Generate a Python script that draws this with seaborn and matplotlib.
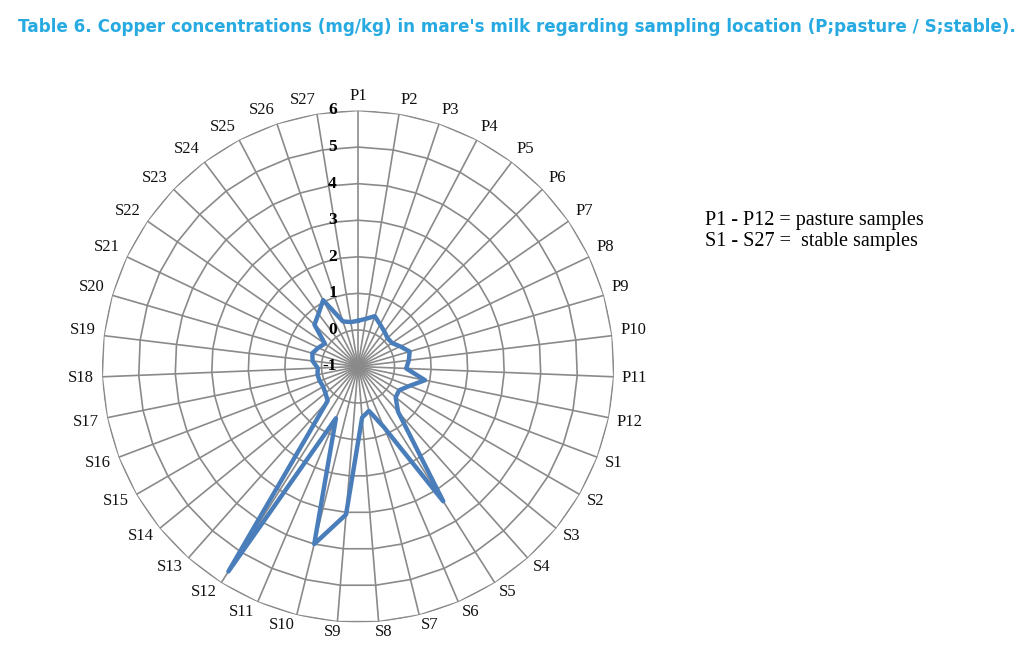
import numpy as np
import pandas as pd
import matplotlib
matplotlib.use("Agg")
import matplotlib.pyplot as plt
import seaborn as sns
from matplotlib.transforms import offset_copy

# ---- data -------------------------------------------------------------
categories = ["P1", "P2", "P3", "P4", "P5", "P6", "P7", "P8", "P9", "P10", "P11", "P12",
              "S1", "S2", "S3", "S4", "S5", "S6", "S7", "S8", "S9", "S10", "S11", "S12",
              "S13", "S14", "S15", "S16", "S17", "S18", "S19", "S20", "S21", "S22", "S23",
              "S24", "S25", "S26", "S27"]
copper = [0.25, 0.32, 0.45, 0.30, 0.20, 0.12, 0.13, 0.28, 0.47, 0.40, 0.32, 0.87,
          0.50, 0.30, 0.33, 0.65, 3.36, 0.80, 0.25, 0.40, 3.06, 4.00, 0.54, 5.63,
          0.25, 0.15, 0.10, 0.12, 0.13, 0.10, 0.25, 0.30, 0.20, 0.10, 0.65,
          0.80, 1.05, 0.30, 0.23]
radial_levels = [-1, 0, 1, 2, 3, 4, 5, 6]
title_text = ("Table 6. Copper concentrations (mg/kg) in mare's milk regarding "
              "sampling location (P;pasture / S;stable).")
note_lines = ["P1 - P12 = pasture samples", "S1 - S27 =  stable samples"]

# ---- styling ----------------------------------------------------------
sns.set_theme(style="white")
plt.rcParams["font.family"] = ["Liberation Serif", "DejaVu Serif"]
SERIF = ["Liberation Serif", "DejaVu Serif"]

GRID = "#8a8a8a"
LINE = "#4a7ebb"
TITLE = "#27aae1"

W, H = 1024, 665
fig = plt.figure(figsize=(W / 100, H / 100), dpi=100)
fig.patch.set_facecolor("white")

cx, cy, R = 358, 366.5, 256
ax = fig.add_axes([(cx - R) / W, (H - cy - R) / H, 2 * R / W, 2 * R / H], projection="polar")
ax.set_theta_zero_location("N")
ax.set_theta_direction(-1)
ax.set_facecolor("white")

n = len(categories)
theta = np.linspace(0, 2 * np.pi, n, endpoint=False)
ax.set_ylim(radial_levels[0], radial_levels[-1])

# spokes
ax.set_xticks(theta)
ax.set_xticklabels([])
ax.xaxis.grid(True, color=GRID, linewidth=1.2)
ax.set_yticks(radial_levels)
ax.set_yticklabels([])
ax.yaxis.grid(False)
ax.spines["polar"].set_visible(False)

# polygonal rings (Excel radar style)
ring_theta = np.append(theta, 2 * np.pi)
for lv in radial_levels[1:]:
    ax.plot(ring_theta, np.full(ring_theta.shape, lv), color=GRID, linewidth=1.2, zorder=1)

# data line
df = pd.DataFrame({"theta": np.append(theta, 2 * np.pi),
                   "copper": copper + copper[:1]})
sns.lineplot(data=df, x="theta", y="copper", ax=ax, sort=False, estimator=None,
             color=LINE, linewidth=3.2, zorder=3)
ax.set_xlabel("")
ax.set_ylabel("")

# radial value labels
trans = offset_copy(ax.transData, fig=fig, x=-21, y=0, units="dots")
for lv in radial_levels:
    ax.text(0, lv, str(lv), transform=trans, ha="right", va="center",
            fontsize=12.5, fontweight="bold", color="black", zorder=5, fontfamily=SERIF)

# category labels placed Excel-like around the outer ring
cat_texts = [ax.text(th, radial_levels[-1], lab, ha="center", va="center", fontsize=12,
                     color="#111111", fontfamily=SERIF, clip_on=False)
             for th, lab in zip(theta, categories)]

# notes
for i, line in enumerate(note_lines):
    fig.text(705 / W, 1 - (220 + 21 * i) / H, line, ha="left", va="center",
             fontsize=14.5, color="black", fontfamily=SERIF)

# title
t = fig.text(18 / W, 1 - 27 / H, title_text, ha="left", va="center", color=TITLE,
             fontsize=12.5, fontweight="bold",
             fontfamily=["DejaVu Sans Condensed", "Liberation Sans Narrow", "DejaVu Sans"])
fig.canvas.draw()
renderer = fig.canvas.get_renderer()
w = t.get_window_extent(renderer).width
if w > 0:
    t.set_fontsize(12.5 * 999 / w)

gap = 8
for th, txt in zip(theta, cat_texts):
    bw = txt.get_window_extent(renderer).width
    s, c = np.sin(th), np.cos(th)
    hv = 6 if c > 0 else 2.5
    dx = gap * s + 0.5 * bw * np.clip(6 * s, -1, 1)
    dy = gap * c + hv * np.clip(6 * c, -1, 1)
    txt.set_transform(offset_copy(ax.transData, fig=fig, x=dx, y=dy, units="dots"))

fig.savefig("out.png", dpi=100, facecolor="white")
